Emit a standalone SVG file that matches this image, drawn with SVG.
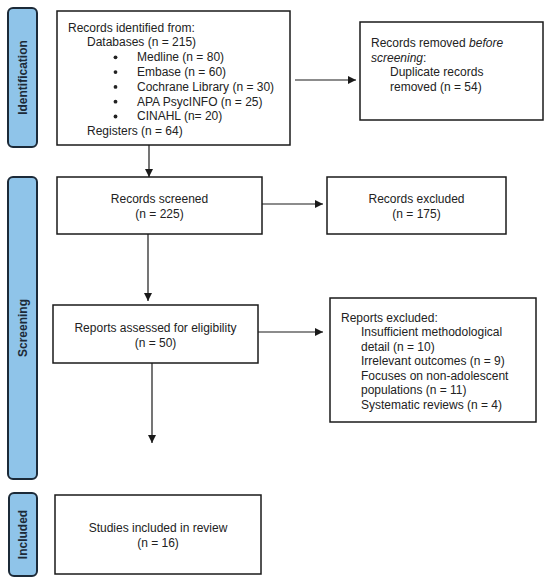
<svg xmlns="http://www.w3.org/2000/svg" width="550" height="584" viewBox="0 0 550 584">
<style>
.box{fill:#fff;stroke:#1a1a1a;stroke-width:1.5}
.bar{fill:#8fc4e9;stroke:#1c2a38;stroke-width:2}
.t{font-family:"Liberation Sans",Arial,sans-serif;font-size:12px;fill:#222}
.c{text-anchor:middle}
.lab{font-family:"Liberation Sans",Arial,sans-serif;font-size:12px;font-weight:bold;fill:#1c2a38;text-anchor:middle}
.ln{stroke:#1a1a1a;stroke-width:1.2;fill:none}
</style>
<defs>
<marker id="ah" viewBox="0 0 10 10" refX="10" refY="5" markerWidth="8" markerHeight="8" markerUnits="userSpaceOnUse" orient="auto">
<path d="M0,0 L10,5 L0,10 Z" fill="#1a1a1a"/>
</marker>
</defs>
<g id="bar-identification">
<rect class="bar" x="8" y="8" width="29" height="139" rx="5"/>
<text class="lab" transform="translate(26.5,77.5) rotate(-90)">Identification</text>
</g>
<g id="bar-screening">
<rect class="bar" x="8" y="177" width="29" height="302" rx="5"/>
<text class="lab" transform="translate(26.5,328) rotate(-90)">Screening</text>
</g>
<g id="bar-included">
<rect class="bar" x="9" y="493" width="28" height="83" rx="5"/>
<text class="lab" transform="translate(27,534.5) rotate(-90)">Included</text>
</g>
<g id="identified">
<rect class="box" x="57" y="11" width="233" height="134"/>
<text class="t" x="68" y="31.5">Records identified from:</text>
<text class="t" x="87" y="46.3">Databases (n = 215)</text>
<text class="t" x="137" y="61.1">Medline (n = 80)</text>
<text class="t" x="137" y="75.9">Embase (n = 60)</text>
<text class="t" x="137" y="90.7">Cochrane Library (n = 30)</text>
<text class="t" x="137" y="105.5">APA PsycINFO (n = 25)</text>
<text class="t" x="137" y="120.3">CINAHL (n= 20)</text>
<text class="t" x="87" y="135.1">Registers (n = 64)</text>
<circle cx="115.5" cy="57.3" r="1.9" fill="#222"/>
<circle cx="115.5" cy="72.1" r="1.9" fill="#222"/>
<circle cx="115.5" cy="86.9" r="1.9" fill="#222"/>
<circle cx="115.5" cy="101.7" r="1.9" fill="#222"/>
<circle cx="115.5" cy="116.5" r="1.9" fill="#222"/>
</g>
<g id="removed">
<rect class="box" x="360" y="22" width="183" height="98"/>
<text class="t" x="371" y="47">Records removed <tspan font-style="italic">before</tspan></text>
<text class="t" x="371" y="61.5"><tspan font-style="italic">screening</tspan>:</text>
<text class="t" x="390" y="76">Duplicate records</text>
<text class="t" x="390" y="90.5">removed (n = 54)</text>
</g>
<g id="screened">
<rect class="box" x="57" y="177" width="205" height="57"/>
<text class="t c" x="159.5" y="203">Records screened</text>
<text class="t c" x="159.5" y="218">(n = 225)</text>
</g>
<g id="excluded">
<rect class="box" x="327" y="177" width="179" height="57"/>
<text class="t c" x="416.5" y="203">Records excluded</text>
<text class="t c" x="416.5" y="217.5">(n = 175)</text>
</g>
<g id="assessed">
<rect class="box" x="53" y="305" width="205" height="58"/>
<text class="t c" x="155.5" y="332">Reports assessed for eligibility</text>
<text class="t c" x="155.5" y="347">(n = 50)</text>
</g>
<g id="reports-excluded">
<rect class="box" x="330" y="298" width="206" height="124"/>
<text class="t" x="341" y="321.5">Reports excluded:</text>
<text class="t" x="361" y="336">Insufficient methodological</text>
<text class="t" x="361" y="350.5">detail (n = 10)</text>
<text class="t" x="361" y="365">Irrelevant outcomes (n = 9)</text>
<text class="t" x="361" y="379.5">Focuses on non-adolescent</text>
<text class="t" x="361" y="394">populations (n = 11)</text>
<text class="t" x="361" y="408.5">Systematic reviews (n = 4)</text>
</g>
<g id="included">
<rect class="box" x="55" y="495" width="206" height="79"/>
<text class="t c" x="158" y="532">Studies included in review</text>
<text class="t c" x="158" y="547">(n = 16)</text>
</g>
<g id="connectors">
<line class="ln" x1="295" y1="80" x2="356" y2="80" marker-end="url(#ah)"/>
<line class="ln" x1="149" y1="145" x2="149" y2="177" marker-end="url(#ah)"/>
<line class="ln" x1="262" y1="204" x2="323" y2="204" marker-end="url(#ah)"/>
<line class="ln" x1="148" y1="234" x2="148" y2="301" marker-end="url(#ah)"/>
<line class="ln" x1="258" y1="332" x2="323" y2="332" marker-end="url(#ah)"/>
<line class="ln" x1="152" y1="363" x2="152" y2="443" marker-end="url(#ah)"/>
</g>
</svg>
